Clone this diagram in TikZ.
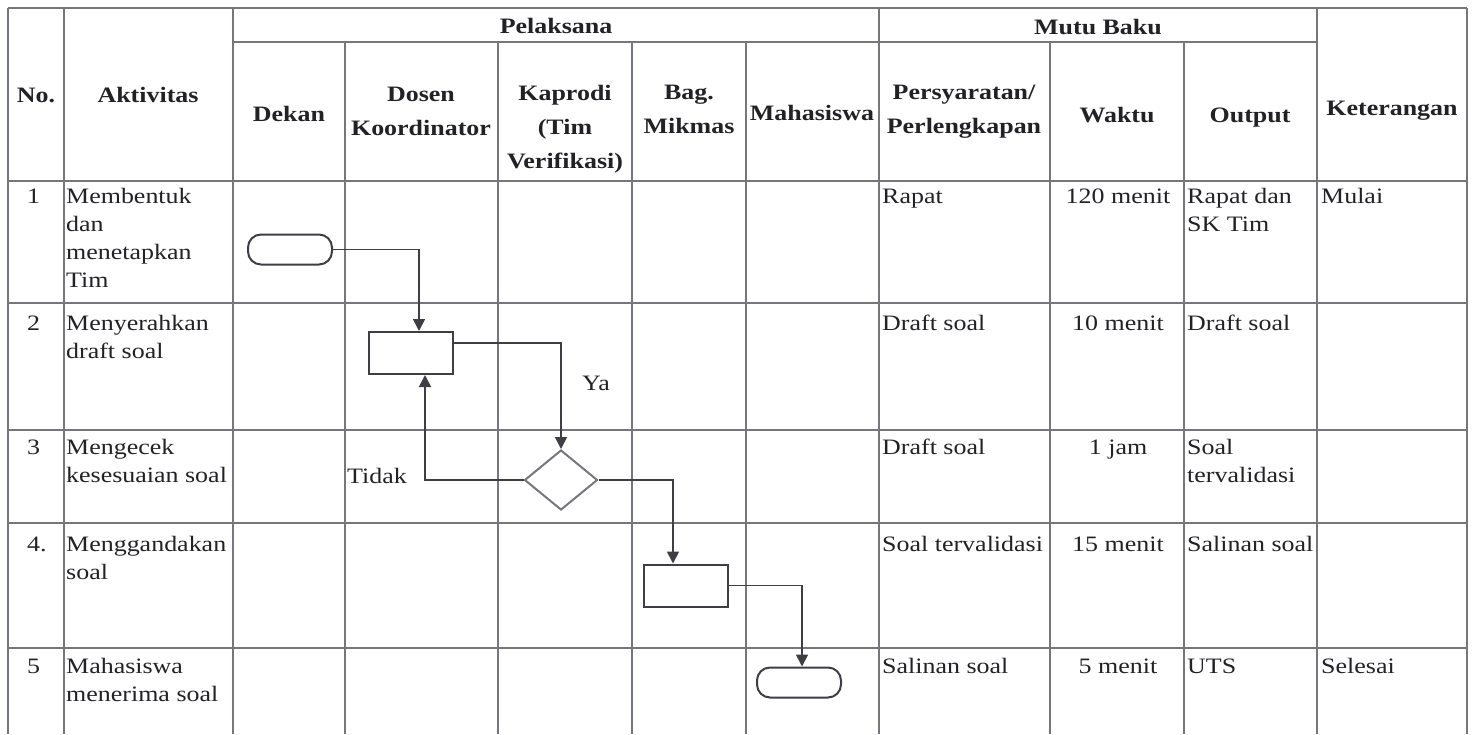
\documentclass[tikz,border=0pt]{standalone}
\usepackage{fontspec}
\setmainfont{Liberation Serif}[FakeStretch=1.18]
\usetikzlibrary{arrows.meta,shapes.geometric}

\definecolor{gridcol}{RGB}{118,118,124}
\definecolor{flowcol}{RGB}{62,62,68}
\definecolor{inkcol}{RGB}{34,34,38}

\tikzset{
    tbl/.style={draw=gridcol,line width=1.3pt},
    hd/.style={anchor=north,align=center,inner sep=0pt,text=inkcol,
        font=\fontsize{22}{34}\selectfont\bfseries,execute at begin node={\rule{0pt}{15pt}}},
    cell/.style={anchor=north west,align=left,inner sep=0pt,text=inkcol,
        font=\fontsize{22}{28}\selectfont,execute at begin node={\rule{0pt}{15pt}}},
    lbl/.style={inner sep=0pt,text=inkcol,font=\fontsize{22}{28}\selectfont},
    term/.style={draw=flowcol,line width=2pt,rounded corners=13pt,minimum width=84pt,minimum height=30pt},
    proc/.style={draw=flowcol,line width=2pt,minimum width=84pt,minimum height=42pt},
    dec/.style={draw=gridcol,line width=2pt,diamond,inner sep=0pt,minimum width=73pt,minimum height=60pt},
    flow/.style={draw=flowcol,line width=1.7pt,-{Triangle[length=12pt,width=12pt]}}
}

\begin{document}
\begin{tikzpicture}[x=1pt,y=-1pt]
    \useasboundingbox (0,0) rectangle (1477,734);

    % table grid
    \foreach \x in {8,64,233,879,1317,1467}
        \draw[tbl] (\x,8) -- (\x,734);
    \foreach \x in {345,498,632,746,1050,1184}
        \draw[tbl] (\x,42) -- (\x,734);
    \draw[tbl] (8,8) -- (1467,8);
    \draw[tbl] (233,42) -- (1317,42);
    \foreach \y in {181,303,430,523,648}
        \draw[tbl] (8,\y) -- (1467,\y);

    % header
    \node[hd] (hNo) at (36,87) {No.};
    \node[hd] (hAktivitas) at (148,87) {Aktivitas};
    \node[hd] (hPelaksana) at (556,18) {Pelaksana};
    \node[hd] (hMutu) at (1098,19) {Mutu Baku};
    \node[hd] (hDekan) at (289,106) {Dekan};
    \node[hd] (hDosen) at (421,87) {Dosen\\Koordinator};
    \node[hd] (hKaprodi) at (565,85) {Kaprodi\\(Tim\\Verifikasi)};
    \node[hd] (hBag) at (689,85) {Bag.\\Mikmas};
    \node[hd] (hMahasiswa) at (812,105) {Mahasiswa};
    \node[hd] (hSyarat) at (964,85) {Persyaratan/\\Perlengkapan};
    \node[hd] (hWaktu) at (1117,107) {Waktu};
    \node[hd] (hOutput) at (1250,107) {Output};
    \node[hd] (hKet) at (1392,100) {Keterangan};

    % rows
    \foreach \i/\n/\y in {1/1/188, 2/2/315, 3/3/439, 4/4./536, 5/5/658}
        \node[cell] (no\i) at (27,\y) {\n};
    \foreach \i/\txt/\y in {1/{Membentuk\\dan\\menetapkan\\Tim}/188,
            2/{Menyerahkan\\draft soal}/315, 3/{Mengecek\\kesesuaian soal}/439,
            4/{Menggandakan\\soal}/536, 5/{Mahasiswa\\menerima soal}/658}
        \node[cell] (akt\i) at (66,\y) {\txt};
    \foreach \i/\txt/\y in {1/Rapat/188, 2/Draft soal/315, 3/Draft soal/439,
            4/Soal tervalidasi/536, 5/Salinan soal/658}
        \node[cell] (syarat\i) at (882,\y) {\txt};
    \foreach \i/\txt/\y in {1/120 menit/188, 2/10 menit/315, 3/1 jam/439,
            4/15 menit/536, 5/5 menit/658}
        \node[cell,anchor=north] (waktu\i) at (1118,\y) {\txt};
    \foreach \i/\txt/\y in {1/{Rapat dan\\SK Tim}/188, 2/Draft soal/315,
            3/{Soal\\tervalidasi}/439, 4/Salinan soal/536, 5/UTS/658}
        \node[cell] (output\i) at (1187,\y) {\txt};
    \node[cell] (ket1) at (1321,188) {Mulai};
    \node[cell] (ket5) at (1321,658) {Selesai};

    % flow
    \node[term] (mulai) at (290,249.5) {};
    \node[proc] (draft) at (411,353) {};
    \node[dec] (cek) at (561,480) {};
    \node[proc] (ganda) at (685.5,585.5) {};
    \node[term] (selesai) at (799,682.5) {};

    \draw[flow] (mulai.east) -| ([xshift=8pt]draft.north);
    \draw[flow] ([yshift=10pt]draft.east) -| (cek.north);
    \draw[flow] (cek.west) -| ([xshift=14pt]draft.south);
    \draw[flow] (cek.east) -| ([xshift=-12.5pt]ganda.north);
    \draw[flow] (ganda.east) -| ([xshift=3pt]selesai.north);
    \node[lbl] (ya) at (596,383) {Ya};
    \node[lbl,anchor=base west] (tidak) at (347,483) {Tidak};
\end{tikzpicture}
\end{document}
